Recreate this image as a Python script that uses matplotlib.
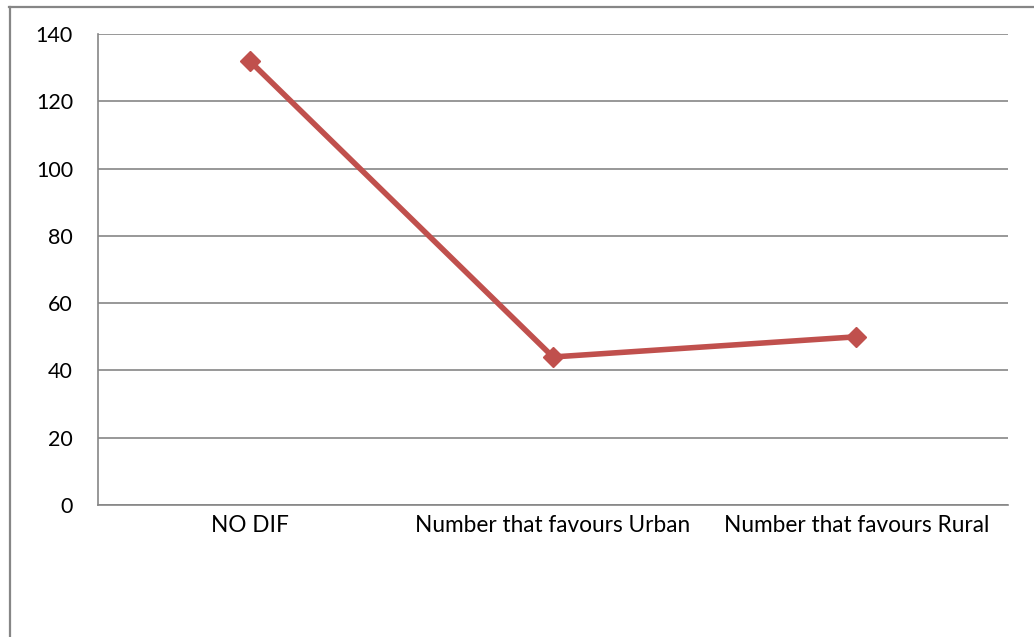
import matplotlib
matplotlib.use("Agg")
import matplotlib.pyplot as plt

categories = ["NO DIF", "Number that favours Urban", "Number that favours Rural"]
values = [132, 44, 50]
yticks = [0, 20, 40, 60, 80, 100, 120, 140]

plt.rcParams['font.family'] = ['Lato', 'DejaVu Sans']

fig = plt.figure(figsize=(10.34, 6.37), dpi=100)
ax = fig.add_axes([98/1034, 1-505/637, 910/1034, 471/637])

x = list(range(len(categories)))
ax.plot(x, values, color="#C0504D", linewidth=4.0, marker="D", markersize=10.5,
        markerfacecolor="#C0504D", markeredgecolor="#C0504D", zorder=3)

ax.set_xlim(-0.5, len(categories) - 0.5)
ax.set_ylim(0, 140)
ax.set_yticks(yticks)
ax.set_yticklabels([str(t) for t in yticks], fontsize=15.5)
ax.set_xticks(x)
ax.set_xticklabels(categories, fontsize=16.3)
ax.tick_params(axis='both', length=0)
ax.tick_params(axis='y', pad=18)
ax.tick_params(axis='x', pad=7)
ax.yaxis.grid(True, color="#868686", linewidth=1.2)
ax.set_axisbelow(True)
for s in ["top", "right"]:
    ax.spines[s].set_visible(False)
for s in ["left", "bottom"]:
    ax.spines[s].set_color("#868686")
    ax.spines[s].set_linewidth(1.2)

# outer chart border (top and left visible)
fig.add_artist(plt.Line2D([9/1034, 1.0], [1-6.5/637, 1-6.5/637], color="#868686", linewidth=1.6, transform=fig.transFigure))
fig.add_artist(plt.Line2D([9.5/1034, 9.5/1034], [0, 1-6.5/637], color="#868686", linewidth=1.6, transform=fig.transFigure))

fig.savefig("out.png", dpi=100)
